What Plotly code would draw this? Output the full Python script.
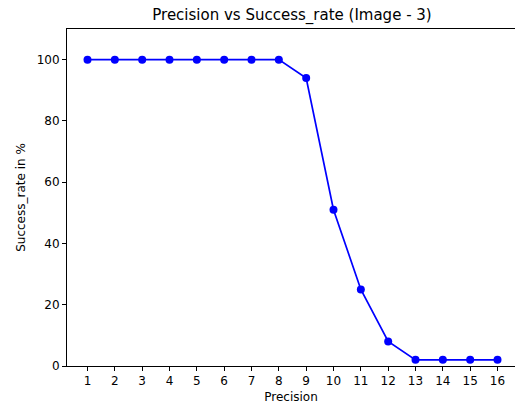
import plotly.graph_objects as go

precision = list(range(1, 17))
success_rate = [100, 100, 100, 100, 100, 100, 100, 100, 94, 51, 25, 8, 2, 2, 2, 2]
x_ticks = list(range(1, 17))
y_ticks = [0, 20, 40, 60, 80, 100]

font = "DejaVu Sans"
fig = go.Figure()
fig.add_trace(go.Scatter(
    x=precision, y=success_rate, mode="lines+markers",
    line=dict(color="#0000ff", width=1.7),
    marker=dict(color="#0000ff", size=8),
    showlegend=False,
))
fig.update_layout(
    width=515, height=410,
    margin=dict(l=67, r=0, t=29, b=44),
    paper_bgcolor="white", plot_bgcolor="white",
    font=dict(family=font, size=12, color="black"),
    title=dict(text="Precision vs Success_rate (Image - 3)", x=292/515, xanchor="center",
               y=1-15/410, yanchor="middle", font=dict(size=15, color="black")),
    xaxis=dict(range=[0.25, 16.64], tickvals=x_ticks, ticks="outside", ticklen=4,
               tickcolor="black", showgrid=False, zeroline=False, showline=True,
               linecolor="black", linewidth=1, mirror=True,
               title=dict(text="Precision", standoff=5, font=dict(size=12))),
    yaxis=dict(range=[0, 110], tickvals=y_ticks, ticks="outside", ticklen=4,
               tickcolor="black", showgrid=False, zeroline=False, showline=True,
               linecolor="black", linewidth=1, mirror=False,
               title=dict(text="Success_rate in %", standoff=8, font=dict(size=12))),
)
fig.write_html("out.html", config={"displayModeBar": False},
               post_script="document.body.style.margin='0';")
